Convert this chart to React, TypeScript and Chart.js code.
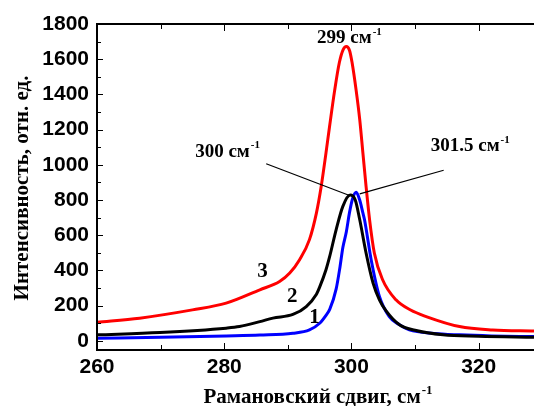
import React, { useEffect, useRef } from "react";
import { Chart, registerables } from "chart.js";

Chart.register(...registerables);

const redX = [260, 266.7, 275, 280.3, 285.6, 288.7, 290.3, 291.85, 293.4, 294.5, 295.25, 296.0, 296.55, 297.35, 298.1, 298.7, 299.2, 299.7, 300.1, 300.75, 301.3, 301.8, 302.3, 302.85, 303.6, 304.9, 307.0, 309.3, 311.75, 317, 322.2, 328.7];
const redY = [106, 129, 176, 214, 290, 337, 385, 461, 575, 727, 878, 1068, 1215, 1420, 1581, 1655, 1672, 1650, 1581, 1420, 1258, 1068, 878, 689, 499, 347, 233, 175, 138, 81, 62, 56];

const blackX = [260, 269.9, 280.3, 282.4, 285.6, 287.65, 290.8, 292.9, 294.5, 295.0, 296.0, 296.55, 297.6, 298.65, 299.8, 300.6, 301.3, 302.3, 303.4, 304.4, 305.45, 307.55, 310, 314.4, 320, 328.7];
const blackY = [34, 47, 72, 81, 109, 129, 150, 195, 265, 305, 404, 475, 632, 764, 828, 800, 689, 499, 328, 233, 170, 91, 60, 34, 26, 20];

const blueX = [260, 270, 280.3, 285.6, 290.8, 293.4, 295.0, 296.0, 296.6, 297.6, 298.2, 298.65, 299.2, 299.7, 300.2, 300.75, 301.3, 301.8, 302.05, 303.1, 304.4, 305.95, 307.55, 309.1, 313, 317, 322, 328.7];
const blueY = [15, 20, 28, 33, 43, 62, 100, 145, 180, 295, 420, 530, 620, 730, 810, 844, 800, 727, 689, 461, 252, 138, 91, 62, 42, 34, 28, 24];

const xTicks = [260, 280, 300, 320];
const xMinorTicks = [270, 290, 310];
const yTicks = [0, 200, 400, 600, 800, 1000, 1200, 1400, 1600, 1800];
const yMinorTicks = [100, 300, 500, 700, 900, 1100, 1300, 1500, 1700];

const X_MIN = 260;
const X_MAX = 328.7;
const Y_MIN = -52;
const Y_MAX = 1800;

const xTitle = "Рамановский сдвиг, см";
const yTitle = "Интенсивность, отн. ед.";
const supText = "-1";

// annotation texts: [main, sup, x, baselineY]
const peakLabels: [string, string, number, number][] = [
  ["299 см", "-1", 299.6, 1691],
  ["300 см", "-1", 280.45, 1047],
  ["301.5 см", "-1", 318.6, 1076],
];
// leader lines: [x1, y1, x2, y2]
const leaderLines: [number, number, number, number][] = [
  [286.6, 1006, 299.6, 827],
  [314.5, 969, 301.3, 835],
];
// curve numbers: [text, x, y]
const curveNumbers: [string, number, number][] = [
  ["3", 286.0, 394],
  ["2", 290.7, 252],
  ["1", 294.2, 130],
];

const toPts = (xs: number[], ys: number[]) => xs.map((x, i) => ({ x, y: ys[i] }));

const SERIF = "'Liberation Serif', 'Times New Roman', serif";
const SANS = "'Liberation Sans', Arial, sans-serif";

function drawSup(ctx: CanvasRenderingContext2D, main: string, sup: string, cx: number, y: number, size: number) {
  ctx.font = `bold ${size}px ${SERIF}`;
  const w1 = ctx.measureText(main).width;
  const supSize = Math.round(size * 0.6);
  ctx.font = `bold ${supSize}px ${SERIF}`;
  const w2 = ctx.measureText(sup).width;
  const start = cx - (w1 + w2) / 2;
  ctx.textAlign = "left";
  ctx.textBaseline = "alphabetic";
  ctx.font = `bold ${size}px ${SERIF}`;
  ctx.fillText(main, start, y);
  ctx.font = `bold ${supSize}px ${SERIF}`;
  ctx.fillText(sup, start + w1 + 1, y - size * 0.45);
}

const framePlugin = {
  id: "frame",
  afterDraw(chart: any) {
    const ctx: CanvasRenderingContext2D = chart.ctx;
    const ca = chart.chartArea;
    const xs = chart.scales.x;
    const ys = chart.scales.y;
    const left = Math.round(ca.left);
    const right = Math.round(ca.right);
    const top = Math.round(ca.top);
    const bottom = Math.round(ca.bottom);
    ctx.save();
    ctx.fillStyle = "#000000";
    ctx.strokeStyle = "#000000";

    // frame (top, left, bottom)
    ctx.lineWidth = 2;
    ctx.beginPath();
    ctx.moveTo(right, top);
    ctx.lineTo(left, top);
    ctx.lineTo(left, bottom);
    ctx.lineTo(right, bottom);
    ctx.stroke();

    // inward tick marks
    for (const v of xTicks) {
      const px = Math.round(xs.getPixelForValue(v));
      ctx.fillRect(px, bottom - 7, 1, 6);
      ctx.fillRect(px, top + 1, 1, 6);
    }
    for (const v of xMinorTicks) {
      const px = Math.round(xs.getPixelForValue(v));
      ctx.fillRect(px, bottom - 5, 1, 4);
      ctx.fillRect(px, top + 1, 1, 4);
    }
    for (const v of yTicks) {
      const py = Math.round(ys.getPixelForValue(v));
      ctx.fillRect(left + 1, py, 5, 1);
    }
    for (const v of yMinorTicks) {
      const py = Math.round(ys.getPixelForValue(v));
      ctx.fillRect(left + 1, py, 3, 1);
    }

    // leader lines
    ctx.lineWidth = 1.2;
    ctx.beginPath();
    for (const [x1, y1, x2, y2] of leaderLines) {
      ctx.moveTo(xs.getPixelForValue(x1), ys.getPixelForValue(y1));
      ctx.lineTo(xs.getPixelForValue(x2), ys.getPixelForValue(y2));
    }
    ctx.stroke();

    // peak labels
    for (const [m, s, x, y] of peakLabels) {
      drawSup(ctx, m, s, xs.getPixelForValue(x), ys.getPixelForValue(y), 19);
    }

    // curve numbers
    ctx.font = `bold 21px ${SERIF}`;
    ctx.textAlign = "center";
    ctx.textBaseline = "middle";
    for (const [t, x, y] of curveNumbers) {
      ctx.fillText(t, xs.getPixelForValue(x), ys.getPixelForValue(y));
    }

    // x title
    drawSup(ctx, xTitle, supText, (left + right) / 2 + 2, bottom + 53, 21);

    // y title
    ctx.save();
    ctx.translate(23, (top + bottom) / 2 + 1);
    ctx.rotate(-Math.PI / 2);
    ctx.font = `bold 21px ${SERIF}`;
    ctx.textAlign = "center";
    ctx.textBaseline = "middle";
    ctx.fillText(yTitle, 0, 0);
    ctx.restore();

    ctx.restore();
  },
};

export default function App() {
  const ref = useRef<HTMLCanvasElement>(null);
  useEffect(() => {
    if (!ref.current) return;
    const ds = (label: string, pts: any, color: string) => ({
      label,
      data: pts,
      borderColor: color,
      backgroundColor: color,
      borderWidth: 3,
      pointRadius: 0,
      tension: 0.4,
      cubicInterpolationMode: "monotone" as const,
      fill: false,
    });
    const hiddenGrid = { display: true, drawTicks: false, color: "rgba(0,0,0,0)" };
    const axisBorder = { display: true, color: "#000000", width: 2 };
    const chart = new Chart(ref.current, {
      type: "line",
      data: {
        datasets: [
          ds("3", toPts(redX, redY), "#ff0000"),
          ds("2", toPts(blackX, blackY), "#000000"),
          ds("1", toPts(blueX, blueY), "#0000ff"),
        ],
      },
      options: {
        animation: false,
        responsive: false,
        layout: { padding: { left: 0, right: 0, top: 24, bottom: 0 } },
        plugins: { legend: { display: false }, tooltip: { enabled: false } },
        scales: {
          x: {
            type: "linear",
            position: "bottom",
            min: X_MIN,
            max: X_MAX,
            grid: hiddenGrid,
            border: axisBorder,
            ticks: {
              autoSkip: false,
              maxRotation: 0,
              padding: 5,
              color: "#000",
              font: { family: SANS, size: 21, weight: "bold" },
              callback: (v: any) => String(v),
            },
            afterBuildTicks: (s: any) => {
              s.ticks = xTicks.map((v) => ({ value: v }));
            },
            afterFit: (s: any) => {
              s.height = 56;
            },
          },
          y: {
            type: "linear",
            position: "left",
            min: Y_MIN,
            max: Y_MAX,
            grid: hiddenGrid,
            border: axisBorder,
            ticks: {
              autoSkip: false,
              padding: 8,
              color: "#000",
              font: { family: SANS, size: 21, weight: "bold" },
              callback: (v: any) => String(v),
            },
            afterBuildTicks: (s: any) => {
              s.ticks = yTicks.map((v) => ({ value: v }));
            },
            afterFit: (s: any) => {
              s.width = 97;
            },
          },
        },
      },
      plugins: [framePlugin],
    });
    return () => chart.destroy();
  }, []);
  return (
    <div style={{ position: "fixed", left: 0, top: 0, width: 534, height: 406, background: "#fff" }}>
      <canvas ref={ref} width={534} height={406} style={{ width: 534, height: 406, display: "block" }} />
    </div>
  );
}
